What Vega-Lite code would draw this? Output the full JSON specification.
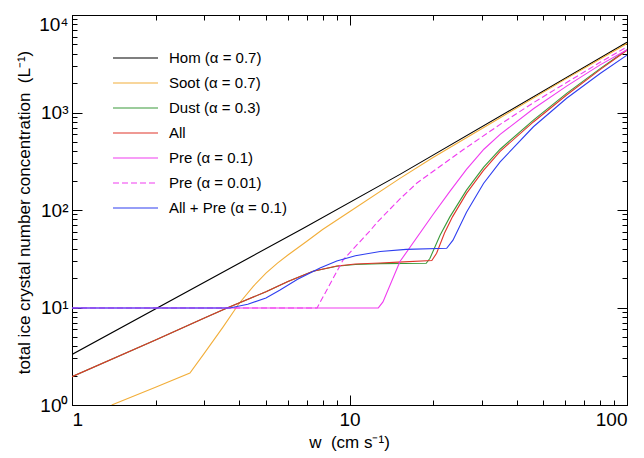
{
  "$schema": "https://vega.github.io/schema/vega-lite/v6.json",
  "width": 555,
  "height": 390,
  "autosize": {"type": "none"},
  "padding": {"left": 72, "top": 15, "right": 17, "bottom": 53},
  "background": "white",
  "config": {
    "font": "Liberation Sans",
    "view": {"stroke": "black", "strokeWidth": 1}
  },
  "data": {"values": [
    {"s": "Hom (α = 0.7)", "w": 1, "n": 3.3},
    {"s": "Hom (α = 0.7)", "w": 6.82, "n": 65},
    {"s": "Hom (α = 0.7)", "w": 15.2, "n": 232},
    {"s": "Hom (α = 0.7)", "w": 100, "n": 5250},

    {"s": "Soot (α = 0.7)", "w": 1.39, "n": 1},
    {"s": "Soot (α = 0.7)", "w": 2, "n": 1.52},
    {"s": "Soot (α = 0.7)", "w": 2.66, "n": 2.13},
    {"s": "Soot (α = 0.7)", "w": 3, "n": 3.4},
    {"s": "Soot (α = 0.7)", "w": 3.5, "n": 6.3},
    {"s": "Soot (α = 0.7)", "w": 4, "n": 11},
    {"s": "Soot (α = 0.7)", "w": 4.5, "n": 16.5},
    {"s": "Soot (α = 0.7)", "w": 5, "n": 22.5},
    {"s": "Soot (α = 0.7)", "w": 5.5, "n": 28.5},
    {"s": "Soot (α = 0.7)", "w": 6, "n": 34.5},
    {"s": "Soot (α = 0.7)", "w": 7, "n": 47.5},
    {"s": "Soot (α = 0.7)", "w": 8, "n": 63},
    {"s": "Soot (α = 0.7)", "w": 10, "n": 96},
    {"s": "Soot (α = 0.7)", "w": 15.2, "n": 211},
    {"s": "Soot (α = 0.7)", "w": 20, "n": 345},
    {"s": "Soot (α = 0.7)", "w": 34.8, "n": 880},
    {"s": "Soot (α = 0.7)", "w": 60, "n": 2200},
    {"s": "Soot (α = 0.7)", "w": 100, "n": 5100},

    {"s": "Dust (α = 0.3)", "w": 1, "n": 1.95},
    {"s": "Dust (α = 0.3)", "w": 2, "n": 4.65},
    {"s": "Dust (α = 0.3)", "w": 3, "n": 7.8},
    {"s": "Dust (α = 0.3)", "w": 3.62, "n": 9.9},
    {"s": "Dust (α = 0.3)", "w": 5, "n": 14.5},
    {"s": "Dust (α = 0.3)", "w": 6, "n": 18.5},
    {"s": "Dust (α = 0.3)", "w": 7.39, "n": 23.5},
    {"s": "Dust (α = 0.3)", "w": 9, "n": 26.5},
    {"s": "Dust (α = 0.3)", "w": 10.5, "n": 27.6},
    {"s": "Dust (α = 0.3)", "w": 12.9, "n": 28.2},
    {"s": "Dust (α = 0.3)", "w": 18.9, "n": 28.4},
    {"s": "Dust (α = 0.3)", "w": 19.5, "n": 32},
    {"s": "Dust (α = 0.3)", "w": 21.2, "n": 55},
    {"s": "Dust (α = 0.3)", "w": 23, "n": 85},
    {"s": "Dust (α = 0.3)", "w": 26.4, "n": 160},
    {"s": "Dust (α = 0.3)", "w": 30.4, "n": 274},
    {"s": "Dust (α = 0.3)", "w": 34.9, "n": 420},
    {"s": "Dust (α = 0.3)", "w": 46, "n": 836},
    {"s": "Dust (α = 0.3)", "w": 60.6, "n": 1570},
    {"s": "Dust (α = 0.3)", "w": 80, "n": 2820},
    {"s": "Dust (α = 0.3)", "w": 100, "n": 4400},

    {"s": "All", "w": 1, "n": 1.95},
    {"s": "All", "w": 2, "n": 4.65},
    {"s": "All", "w": 3, "n": 7.8},
    {"s": "All", "w": 3.62, "n": 9.9},
    {"s": "All", "w": 5, "n": 14.5},
    {"s": "All", "w": 6, "n": 18.5},
    {"s": "All", "w": 7.39, "n": 23.5},
    {"s": "All", "w": 9, "n": 26.6},
    {"s": "All", "w": 10.5, "n": 27.9},
    {"s": "All", "w": 12.9, "n": 28.6},
    {"s": "All", "w": 15, "n": 29.2},
    {"s": "All", "w": 19.8, "n": 30.3},
    {"s": "All", "w": 20.6, "n": 36},
    {"s": "All", "w": 22, "n": 58},
    {"s": "All", "w": 23.5, "n": 85},
    {"s": "All", "w": 26.4, "n": 148},
    {"s": "All", "w": 30.4, "n": 255},
    {"s": "All", "w": 34.9, "n": 400},
    {"s": "All", "w": 46, "n": 800},
    {"s": "All", "w": 60.6, "n": 1510},
    {"s": "All", "w": 80, "n": 2750},
    {"s": "All", "w": 100, "n": 4350},

    {"s": "Pre (α = 0.01)", "w": 1, "n": 9.9},
    {"s": "Pre (α = 0.01)", "w": 7.64, "n": 9.9},
    {"s": "Pre (α = 0.01)", "w": 9.48, "n": 30.7},
    {"s": "Pre (α = 0.01)", "w": 11.9, "n": 62},
    {"s": "Pre (α = 0.01)", "w": 12.6, "n": 75},
    {"s": "Pre (α = 0.01)", "w": 15.2, "n": 130},
    {"s": "Pre (α = 0.01)", "w": 17.5, "n": 189},
    {"s": "Pre (α = 0.01)", "w": 25.6, "n": 412},
    {"s": "Pre (α = 0.01)", "w": 34.9, "n": 755},
    {"s": "Pre (α = 0.01)", "w": 46, "n": 1260},
    {"s": "Pre (α = 0.01)", "w": 60.6, "n": 2030},
    {"s": "Pre (α = 0.01)", "w": 80, "n": 3270},
    {"s": "Pre (α = 0.01)", "w": 100, "n": 4700},

    {"s": "Pre (α = 0.1)", "w": 1, "n": 9.9},
    {"s": "Pre (α = 0.1)", "w": 12.7, "n": 9.9},
    {"s": "Pre (α = 0.1)", "w": 13.2, "n": 11.4},
    {"s": "Pre (α = 0.1)", "w": 15.2, "n": 29.6},
    {"s": "Pre (α = 0.1)", "w": 20, "n": 90},
    {"s": "Pre (α = 0.1)", "w": 23, "n": 155},
    {"s": "Pre (α = 0.1)", "w": 26.4, "n": 261},
    {"s": "Pre (α = 0.1)", "w": 30.5, "n": 420},
    {"s": "Pre (α = 0.1)", "w": 34.9, "n": 596},
    {"s": "Pre (α = 0.1)", "w": 46, "n": 1094},
    {"s": "Pre (α = 0.1)", "w": 60.6, "n": 1866},
    {"s": "Pre (α = 0.1)", "w": 80, "n": 3080},
    {"s": "Pre (α = 0.1)", "w": 100, "n": 4400},

    {"s": "All + Pre (α = 0.1)", "w": 1, "n": 9.9},
    {"s": "All + Pre (α = 0.1)", "w": 3.7, "n": 9.9},
    {"s": "All + Pre (α = 0.1)", "w": 4.3, "n": 10.8},
    {"s": "All + Pre (α = 0.1)", "w": 5, "n": 12.5},
    {"s": "All + Pre (α = 0.1)", "w": 5.6, "n": 15},
    {"s": "All + Pre (α = 0.1)", "w": 6.5, "n": 19.5},
    {"s": "All + Pre (α = 0.1)", "w": 7.83, "n": 25.4},
    {"s": "All + Pre (α = 0.1)", "w": 9, "n": 30},
    {"s": "All + Pre (α = 0.1)", "w": 10.5, "n": 34},
    {"s": "All + Pre (α = 0.1)", "w": 12.9, "n": 37.5},
    {"s": "All + Pre (α = 0.1)", "w": 16, "n": 39.5},
    {"s": "All + Pre (α = 0.1)", "w": 22.4, "n": 40.5},
    {"s": "All + Pre (α = 0.1)", "w": 23.6, "n": 49},
    {"s": "All + Pre (α = 0.1)", "w": 26.4, "n": 95},
    {"s": "All + Pre (α = 0.1)", "w": 30.4, "n": 187},
    {"s": "All + Pre (α = 0.1)", "w": 34.9, "n": 312},
    {"s": "All + Pre (α = 0.1)", "w": 46, "n": 714},
    {"s": "All + Pre (α = 0.1)", "w": 60.6, "n": 1400},
    {"s": "All + Pre (α = 0.1)", "w": 80, "n": 2510},
    {"s": "All + Pre (α = 0.1)", "w": 100, "n": 3880}
  ]},
  "layer": [
    {
      "mark": {"type": "line", "strokeWidth": 1.1, "clip": true},
      "encoding": {
        "x": {
          "field": "w", "type": "quantitative",
          "scale": {"type": "log", "domain": [1, 100]},
          "axis": {
            "orient": "bottom",
            "values": [1,2,3,4,5,6,7,8,9,10,20,30,40,50,60,70,80,90,100],
            "labelExpr": "datum.value==1?'1':datum.value==10?'10':datum.value==100?'100':''",
            "labelOverlap": false,
            "labelFontSize": 19,
            "labelColor": "black",
            "labelPadding": {"condition": {"test": "datum.value==1||datum.value==10||datum.value==100", "value": 15}, "value": 10},
            "tickSize": {"condition": {"test": "datum.value==1||datum.value==10||datum.value==100", "value": -10}, "value": -5},
            "tickColor": "black",
            "domainColor": "black",
            "grid": false,
            "title": "w\u00a0\u00a0(cm s⁻¹)",
            "titleFontSize": 17,
            "titleFontWeight": "normal",
            "titleColor": "black",
            "titleBaseline": "alphabetic",
            "titleX": 277,
            "titleY": 42
          }
        },
        "y": {
          "field": "n", "type": "quantitative",
          "scale": {"type": "log", "domain": [1, 10000]},
          "axis": {
            "orient": "left",
            "values": [1,2,3,4,5,6,7,8,9,10,20,30,40,50,60,70,80,90,100,200,300,400,500,600,700,800,900,1000,2000,3000,4000,5000,6000,7000,8000,9000,10000],
            "labelExpr": "datum.value==1?'10⁰':datum.value==10?'10¹':datum.value==100?'10²':datum.value==1000?'10³':datum.value==10000?'10⁴':''",
            "labelOverlap": false,
            "labelFontSize": 19,
            "labelColor": "black",
            "labelBaseline": {"condition": {"test": "datum.value==10000", "value": "top"}, "value": "middle"},
            "labelPadding": {"condition": {"test": "datum.value==1||datum.value==10||datum.value==100||datum.value==1000||datum.value==10000", "value": 14}, "value": 9},
            "tickSize": {"condition": {"test": "datum.value==1||datum.value==10||datum.value==100||datum.value==1000||datum.value==10000", "value": -10}, "value": -5},
            "tickColor": "black",
            "domainColor": "black",
            "grid": false,
            "title": "total ice crystal number concentration\u00a0\u00a0(L⁻¹)",
            "titleFontSize": 17,
            "titleFontWeight": "normal",
            "titleColor": "black",
            "titleBaseline": "alphabetic",
            "titleAngle": -90,
            "titleX": -43,
            "titleY": 197
          }
        },
        "color": {
          "field": "s", "type": "nominal",
          "scale": {
            "domain": ["Hom (α = 0.7)", "Soot (α = 0.7)", "Dust (α = 0.3)", "All", "Pre (α = 0.1)", "Pre (α = 0.01)", "All + Pre (α = 0.1)"],
            "range": ["#000000", "#f2ae3a", "#3a9a3a", "#e0352b", "#f03cf0", "#f03cf0", "#2e3ef0"]
          },
          "legend": {
            "orient": "none", "legendX": 40, "legendY": 33,
            "title": null, "padding": 0,
            "symbolType": "stroke", "symbolSize": 2025, "symbolStrokeWidth": 1.2,
            "clipHeight": 20, "rowPadding": 5, "labelOffset": 10,
            "labelFontSize": 15, "labelColor": "black", "labelLimit": 300
          }
        },
        "strokeDash": {
          "field": "s", "type": "nominal",
          "scale": {
            "domain": ["Hom (α = 0.7)", "Soot (α = 0.7)", "Dust (α = 0.3)", "All", "Pre (α = 0.1)", "Pre (α = 0.01)", "All + Pre (α = 0.1)"],
            "range": [[], [], [], [], [], [6, 3], []]
          },
          "legend": {
            "orient": "none", "legendX": 40, "legendY": 33,
            "title": null, "padding": 0,
            "symbolType": "stroke", "symbolSize": 2025, "symbolStrokeWidth": 1.2,
            "clipHeight": 20, "rowPadding": 5, "labelOffset": 10,
            "labelFontSize": 15, "labelColor": "black", "labelLimit": 300
          }
        }
      }
    },
    {
      "mark": {"type": "point", "opacity": 0},
      "encoding": {
        "x": {
          "field": "w", "type": "quantitative",
          "scale": {"type": "log", "domain": [1, 100]},
          "axis": {
            "orient": "top",
            "values": [1,2,3,4,5,6,7,8,9,10,20,30,40,50,60,70,80,90,100],
            "labels": false,
            "tickSize": {"condition": {"test": "datum.value==1||datum.value==10||datum.value==100", "value": -10}, "value": -5},
            "tickColor": "black",
            "domainColor": "black",
            "grid": false,
            "title": null
          }
        },
        "y": {
          "field": "n", "type": "quantitative",
          "scale": {"type": "log", "domain": [1, 10000]},
          "axis": {
            "orient": "right",
            "values": [1,2,3,4,5,6,7,8,9,10,20,30,40,50,60,70,80,90,100,200,300,400,500,600,700,800,900,1000,2000,3000,4000,5000,6000,7000,8000,9000,10000],
            "labels": false,
            "tickSize": {"condition": {"test": "datum.value==1||datum.value==10||datum.value==100||datum.value==1000||datum.value==10000", "value": -10}, "value": -5},
            "tickColor": "black",
            "domainColor": "black",
            "grid": false,
            "title": null
          }
        }
      }
    }
  ],
  "resolve": {"axis": {"x": "independent", "y": "independent"}}
}
